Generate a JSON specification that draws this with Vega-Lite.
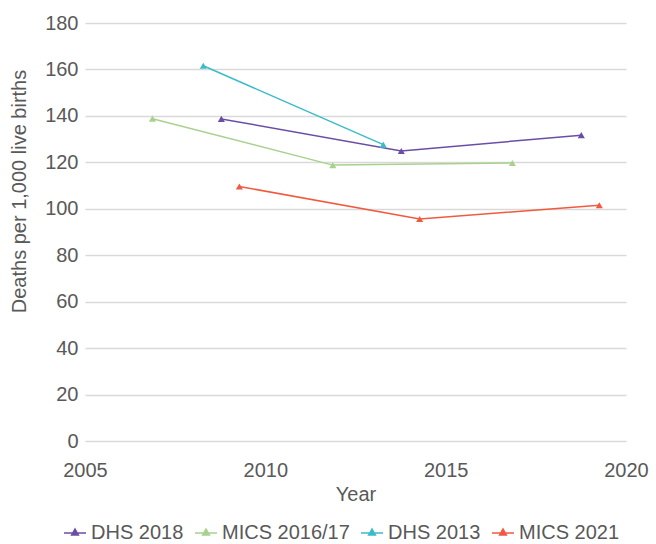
{
  "$schema": "https://vega.github.io/schema/vega-lite/v6.json",
  "width": 541,
  "height": 418,
  "autosize": {"type": "none"},
  "padding": {"left": 85, "top": 23, "right": 30, "bottom": 103},
  "background": "white",
  "config": {
    "view": {"stroke": null},
    "font": "Liberation Sans"
  },
  "data": {
    "values": [
      {"survey": "DHS 2018", "year": 2008.78, "rate": 138.7},
      {"survey": "DHS 2018", "year": 2013.77, "rate": 124.9},
      {"survey": "DHS 2018", "year": 2018.76, "rate": 131.7},
      {"survey": "MICS 2016/17", "year": 2006.87, "rate": 138.8},
      {"survey": "MICS 2016/17", "year": 2011.87, "rate": 118.8},
      {"survey": "MICS 2016/17", "year": 2016.85, "rate": 119.7},
      {"survey": "DHS 2013", "year": 2008.28, "rate": 161.6},
      {"survey": "DHS 2013", "year": 2013.27, "rate": 127.6},
      {"survey": "MICS 2021", "year": 2009.28, "rate": 109.6},
      {"survey": "MICS 2021", "year": 2014.28, "rate": 95.6},
      {"survey": "MICS 2021", "year": 2019.26, "rate": 101.5}
    ]
  },
  "mark": {
    "type": "line",
    "strokeWidth": 1.5,
    "point": {"filled": true, "shape": "triangle-up", "size": 50}
  },
  "encoding": {
    "x": {
      "field": "year",
      "type": "quantitative",
      "scale": {"domain": [2005, 2020], "nice": false, "zero": false},
      "axis": {
        "values": [2005, 2010, 2015, 2020],
        "format": "d",
        "title": "Year",
        "grid": false,
        "domain": false,
        "ticks": false,
        "labelFontSize": 20,
        "labelColor": "#595959",
        "labelPadding": 19,
        "labelFlush": false,
        "titleFontSize": 20,
        "titleFontWeight": "normal",
        "titleColor": "#595959",
        "titlePadding": 4
      }
    },
    "y": {
      "field": "rate",
      "type": "quantitative",
      "scale": {"domain": [0, 180], "nice": false},
      "axis": {
        "values": [0, 20, 40, 60, 80, 100, 120, 140, 160, 180],
        "title": "Deaths per 1,000 live births",
        "grid": true,
        "gridColor": "#d9d9d9",
        "gridWidth": 1.5,
        "domain": false,
        "ticks": false,
        "labelFontSize": 20,
        "labelColor": "#595959",
        "labelPadding": 7,
        "titleFontSize": 20,
        "titleFontWeight": "normal",
        "titleColor": "#595959",
        "titlePadding": 15,
        "titleY": 168
      }
    },
    "color": {
      "field": "survey",
      "type": "nominal",
      "scale": {
        "domain": ["DHS 2018", "MICS 2016/17", "DHS 2013", "MICS 2021"],
        "range": ["#6a4ea6", "#a9d18e", "#3bbcca", "#f15a3f"]
      },
      "legend": {
        "title": null,
        "orient": "none",
        "direction": "horizontal",
        "legendX": -22,
        "legendY": 498,
        "symbolType": "M-1,0H1M0,-0.38L0.32,0.18H-0.32Z",
        "symbolSize": 484,
        "symbolStrokeWidth": 1.3,
        "labelFontSize": 20,
        "labelColor": "#595959",
        "labelOffset": 4,
        "columnPadding": 8,
        "encode": {
          "symbols": {
            "update": {
              "fill": {"scale": "color", "field": "value"},
              "stroke": {"scale": "color", "field": "value"},
              "opacity": {"value": 1}
            }
          }
        }
      }
    }
  }
}
